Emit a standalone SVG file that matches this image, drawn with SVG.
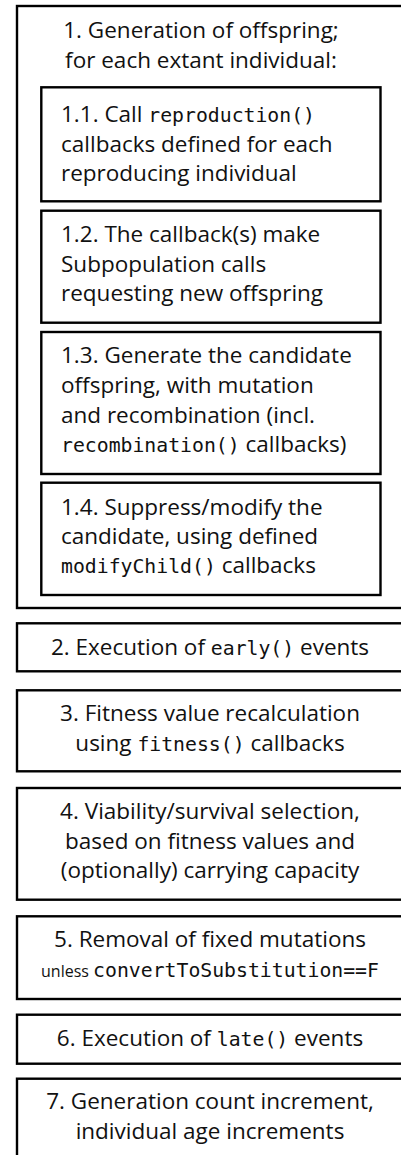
<svg xmlns="http://www.w3.org/2000/svg" width="401" height="1155" viewBox="0 0 401 1155">
<style>
rect{fill:#fff;stroke:#000;stroke-width:2.4}
text{font-family:"Open Sans","Noto Sans",sans-serif;font-size:22.5px;fill:#111}
.c{text-anchor:middle}
.m{font-family:"DejaVu Sans Mono","Liberation Mono",monospace;font-size:19.8px}
.s{font-size:16px}
</style>
<rect x="0" y="0" width="401" height="1155" style="stroke:none;fill:#fff"/>
<g id="connectors"/>
<g id="n1">
<rect x="17" y="6" width="388" height="602"/>
<text class="c" x="201" y="37.5">1. Generation of offspring;</text>
<text class="c" x="201" y="67.5">for each extant individual:</text>
</g>
<g id="n1_1">
<rect x="41.3" y="87.3" width="339.2" height="114"/>
<text x="61" y="122">1.1. Call <tspan class="m">reproduction()</tspan></text>
<text x="61" y="151.5">callbacks defined for each</text>
<text x="61" y="181">reproducing individual</text>
</g>
<g id="n1_2">
<rect x="41.3" y="210.7" width="339.2" height="112"/>
<text x="61" y="242">1.2. The callback(s) make</text>
<text x="61" y="271.5">Subpopulation calls</text>
<text x="61" y="301">requesting new offspring</text>
</g>
<g id="n1_3">
<rect x="41.3" y="332" width="339.2" height="142"/>
<text x="61" y="362.7">1.3. Generate the candidate</text>
<text x="61" y="392.5">offspring, with mutation</text>
<text x="61" y="422.5">and recombination (incl.</text>
<text x="61" y="452"><tspan class="m">recombination()</tspan> callbacks)</text>
</g>
<g id="n1_4">
<rect x="41.3" y="482.7" width="339.2" height="112.3"/>
<text x="61" y="514.5">1.4. Suppress/modify the</text>
<text x="61" y="544">candidate, using defined</text>
<text x="61" y="573"><tspan class="m">modifyChild()</tspan> callbacks</text>
</g>
<g id="n2">
<rect x="17" y="623.3" width="386" height="48"/>
<text class="c" x="210" y="655">2. Execution of <tspan class="m">early()</tspan> events</text>
</g>
<g id="n3">
<rect x="17" y="690.3" width="386" height="81"/>
<text class="c" x="210" y="720.5">3. Fitness value recalculation</text>
<text class="c" x="210" y="751">using <tspan class="m">fitness()</tspan> callbacks</text>
</g>
<g id="n4">
<rect x="17" y="788" width="386" height="111.7"/>
<text class="c" x="210" y="819">4. Viability/survival selection,</text>
<text class="c" x="210" y="848.5">based on fitness values and</text>
<text class="c" x="210" y="878">(optionally) carrying capacity</text>
</g>
<g id="n5">
<rect x="17" y="916.3" width="386" height="82.7"/>
<text class="c" x="210" y="946.5">5. Removal of fixed mutations</text>
<text class="c" x="210" y="976.5"><tspan class="s">unless </tspan><tspan class="m">convertToSubstitution==F</tspan></text>
</g>
<g id="n6">
<rect x="17" y="1014.7" width="386" height="49"/>
<text class="c" x="210" y="1046.4">6. Execution of <tspan class="m">late()</tspan> events</text>
</g>
<g id="n7">
<rect x="17" y="1078.7" width="386" height="100"/>
<text class="c" x="210" y="1108.5">7. Generation count increment,</text>
<text class="c" x="210" y="1138.5">individual age increments</text>
</g>
</svg>
